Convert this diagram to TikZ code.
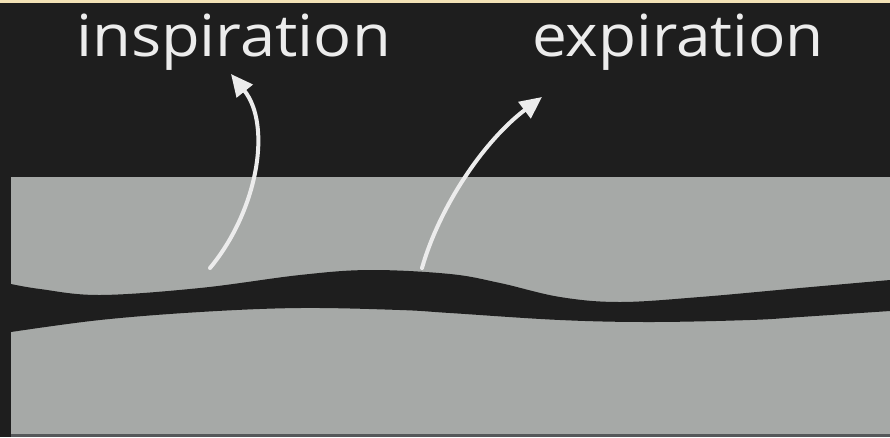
\documentclass[tikz,border=0pt]{standalone}
\usepackage{fontspec}
\usepackage{graphicx}
\setmainfont{Open Sans}
\usetikzlibrary{arrows.meta}
\definecolor{bgdark}{HTML}{1E1E1E}
\definecolor{panel}{HTML}{A6A9A7}
\definecolor{strip}{HTML}{F3E2B6}
\definecolor{chalk}{HTML}{ECECEC}
\definecolor{edge}{HTML}{55585A}
\tikzset{
  label text/.style={text=chalk, font=\fontsize{58}{60}\selectfont, inner sep=0pt},
  chalkarrow/.style={draw=chalk, line width=4pt, line cap=round,
    -{Triangle[length=22pt,width=20pt]}},
}
\begin{document}
\begin{tikzpicture}[x=1pt,y=-1pt]
  \useasboundingbox (0,0) rectangle (890,437);
  % background
  \fill[bgdark] (0,0) rectangle (890,437);
  \fill[strip] (0,0) rectangle (890,3);
  % lung panel
  \fill[panel] (11,177) rectangle (890,434);
  \fill[edge] (11,434) rectangle (890,437);
  % dark wavy band
  \fill[bgdark] plot[smooth, tension=0.6] coordinates {(11,284) (40,289) (100,295) (200,288) (300,275) (370,270) (450,274) (500,283) (560,297) (620,302) (700,297) (800,288) (890,280)}
    -- plot[smooth, tension=0.6] coordinates {(890,311) (800,317) (750,320) (650,322) (560,320) (450,313) (400,310) (300,308) (200,312) (100,320) (11,332)} -- cycle;
  % labels
  \node[label text, anchor=base west] (insp) at (76,56) {\scalebox{1.09}[1]{inspiration}};
  \node[label text, anchor=base west] (expi) at (532,56) {\scalebox{1.07}[1]{expiration}};
  % arrows
  \coordinate (s1) at (210,268);
  \coordinate (e1) at (231,74);
  \coordinate (s2) at (422,268);
  \coordinate (e2) at (542,97);
  \draw[chalkarrow] (s1) .. controls (258,210) and (272,125) .. (e1);
  \draw[chalkarrow] (s2) .. controls (440,205) and (485,140) .. (e2);
\end{tikzpicture}
\end{document}
